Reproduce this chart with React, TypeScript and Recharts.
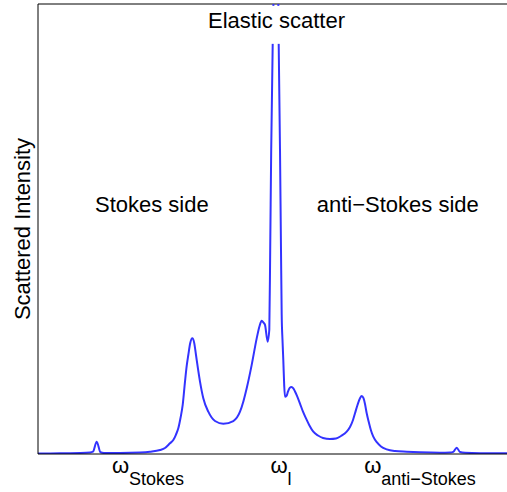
import { LineChart, Line, XAxis, YAxis, ReferenceLine, ReferenceDot, Label } from "recharts";

// frequency offset (arbitrary units) and scattered intensity (% of axis height)
const freq = [
  0, 22, 42, 52, 55, 58.7, 62.5, 66, 82, 102,
  112, 122, 127, 132, 135.3, 138, 140.3, 142.5, 144.7, 147,
  148.7, 150.3, 152.3, 154.3, 156.2, 158, 160, 162, 165.3, 170.3,
  177, 185.3, 195.3, 202, 205.5, 208.7, 213.7, 218.7, 221.5, 223.7,
  225.5, 227, 229.7, 231.3, 232.2, 233.2, 234.7, 235.4, 237.7, 239.8,
  240.7, 242, 243, 243.7, 244.5, 245.3, 246.2, 247, 248.5, 250,
  251.7, 253.5, 255.3, 257, 259, 262, 265, 268, 271.3, 275.3,
  280, 285, 292, 298, 303, 308.7, 312, 315, 317, 319.5,
  322, 323.7, 325.5, 327, 328.7, 331, 333, 335.3, 339, 343,
  348.7, 357, 368.7, 382, 402, 412, 415.3, 418.7, 422, 427,
  442, 469,
];
const intensity = [
  0.11, 0.16, 0.22, 0.33, 0.51, 2.73, 0.38, 0.22, 0.22, 0.33,
  0.51, 0.89, 1.33, 2.38, 3.11, 4.33, 5.71, 8.0, 10.9, 16.1,
  19.6, 22.0, 24.7, 25.7, 24.7, 22.0, 18.9, 16.1, 12.4, 9.4,
  7.33, 6.73, 7.33, 9.4, 11.8, 14.6, 19.8, 25.7, 28.4, 29.6,
  29.2, 28.7, 24.96, 27.6, 45.3, 67.6, 91.1, 100, 167.6, 112,
  91.1, 67.6, 45.3, 30.9, 25.3, 20.9, 15.3, 12.7, 12.9, 13.9,
  14.7, 14.9, 14.6, 13.9, 12.9, 11.2, 9.4, 7.9, 6.4, 4.96,
  4.11, 3.56, 3.33, 3.44, 4.0, 4.96, 6.0, 7.56, 9.04, 10.9,
  12.4, 12.9, 12.4, 11.1, 9.04, 6.89, 5.22, 3.84, 2.56, 1.67,
  1.04, 0.67, 0.51, 0.38, 0.29, 0.33, 0.49, 1.4, 0.44, 0.27,
  0.18, 0.16,
];

const tickPositions = [110, 243, 382];
const tickSubscripts = ["Stokes", "l", "anti\u2212Stokes"];

const noteText = ["Stokes side", "anti\u2212Stokes side", "Elastic scatter"];
const noteFreq = [57, 278.7, 238.5];
const noteIntensity = [53.8, 53.8, 94.7];

const data = freq.map((f, i) => ({ freq: f, intensity: intensity[i] }));

const FONT = '"Liberation Sans", Arial, Helvetica, sans-serif';

function OmegaTick(props: any) {
  const { x, y, payload } = props;
  const i = tickPositions.indexOf(payload.value);
  return (
    <text x={x} y={y + 19} textAnchor="middle" fontFamily={FONT} fill="#000">
      <tspan fontSize={22}>ω</tspan>
      <tspan fontSize={18} dy={12}>
        {tickSubscripts[i]}
      </tspan>
    </text>
  );
}

function noteShape(i: number) {
  const centered = i === 2;
  return (p: any) => (
    <g>
      {centered && <rect x={p.cx - 72} y={p.cy - 22} width={144} height={38} fill="#fff" />}
      <text
        x={p.cx}
        y={p.cy}
        textAnchor={centered ? "middle" : "start"}
        fontFamily={FONT}
        fontSize={22}
        fill="#000"
      >
        {noteText[i]}
      </text>
    </g>
  );
}

export default function App() {
  return (
    <div style={{ position: "absolute", left: 0, top: 0 }}>
      <LineChart width={507} height={492} data={data} margin={{ top: 4, right: 0, bottom: 0, left: 0 }}>
        <XAxis
          dataKey="freq"
          type="number"
          domain={[0, 469]}
          allowDataOverflow
          ticks={tickPositions}
          interval={0}
          tick={OmegaTick}
          tickLine={false}
          tickSize={0}
          tickMargin={0}
          height={38}
          axisLine={{ stroke: "#000" }}
        />
        <YAxis
          type="number"
          domain={[0, 100]}
          allowDataOverflow
          tick={false}
          tickLine={false}
          width={38}
          axisLine={{ stroke: "#000" }}
        >
          <Label
            content={(p: any) => {
              const vb = p.viewBox;
              const cx = vb.x + 30;
              const cy = vb.y + vb.height / 2;
              return (
                <text
                  x={cx}
                  y={cy}
                  transform={`rotate(-90 ${cx} ${cy})`}
                  textAnchor="middle"
                  fontFamily={FONT}
                  fontSize={22}
                  fill="#000"
                >
                  Scattered Intensity
                </text>
              );
            }}
          />
        </YAxis>
        <ReferenceLine y={100} stroke="#000" />
        <Line
          type="monotone"
          dataKey="intensity"
          stroke="#3333ff"
          strokeWidth={2}
          dot={false}
          activeDot={false}
          isAnimationActive={false}
        />
        {noteText.map((t, i) => (
          <ReferenceDot
            key={t}
            x={noteFreq[i]}
            y={noteIntensity[i]}
            r={0}
            shape={noteShape(i)}
          />
        ))}
      </LineChart>
    </div>
  );
}
